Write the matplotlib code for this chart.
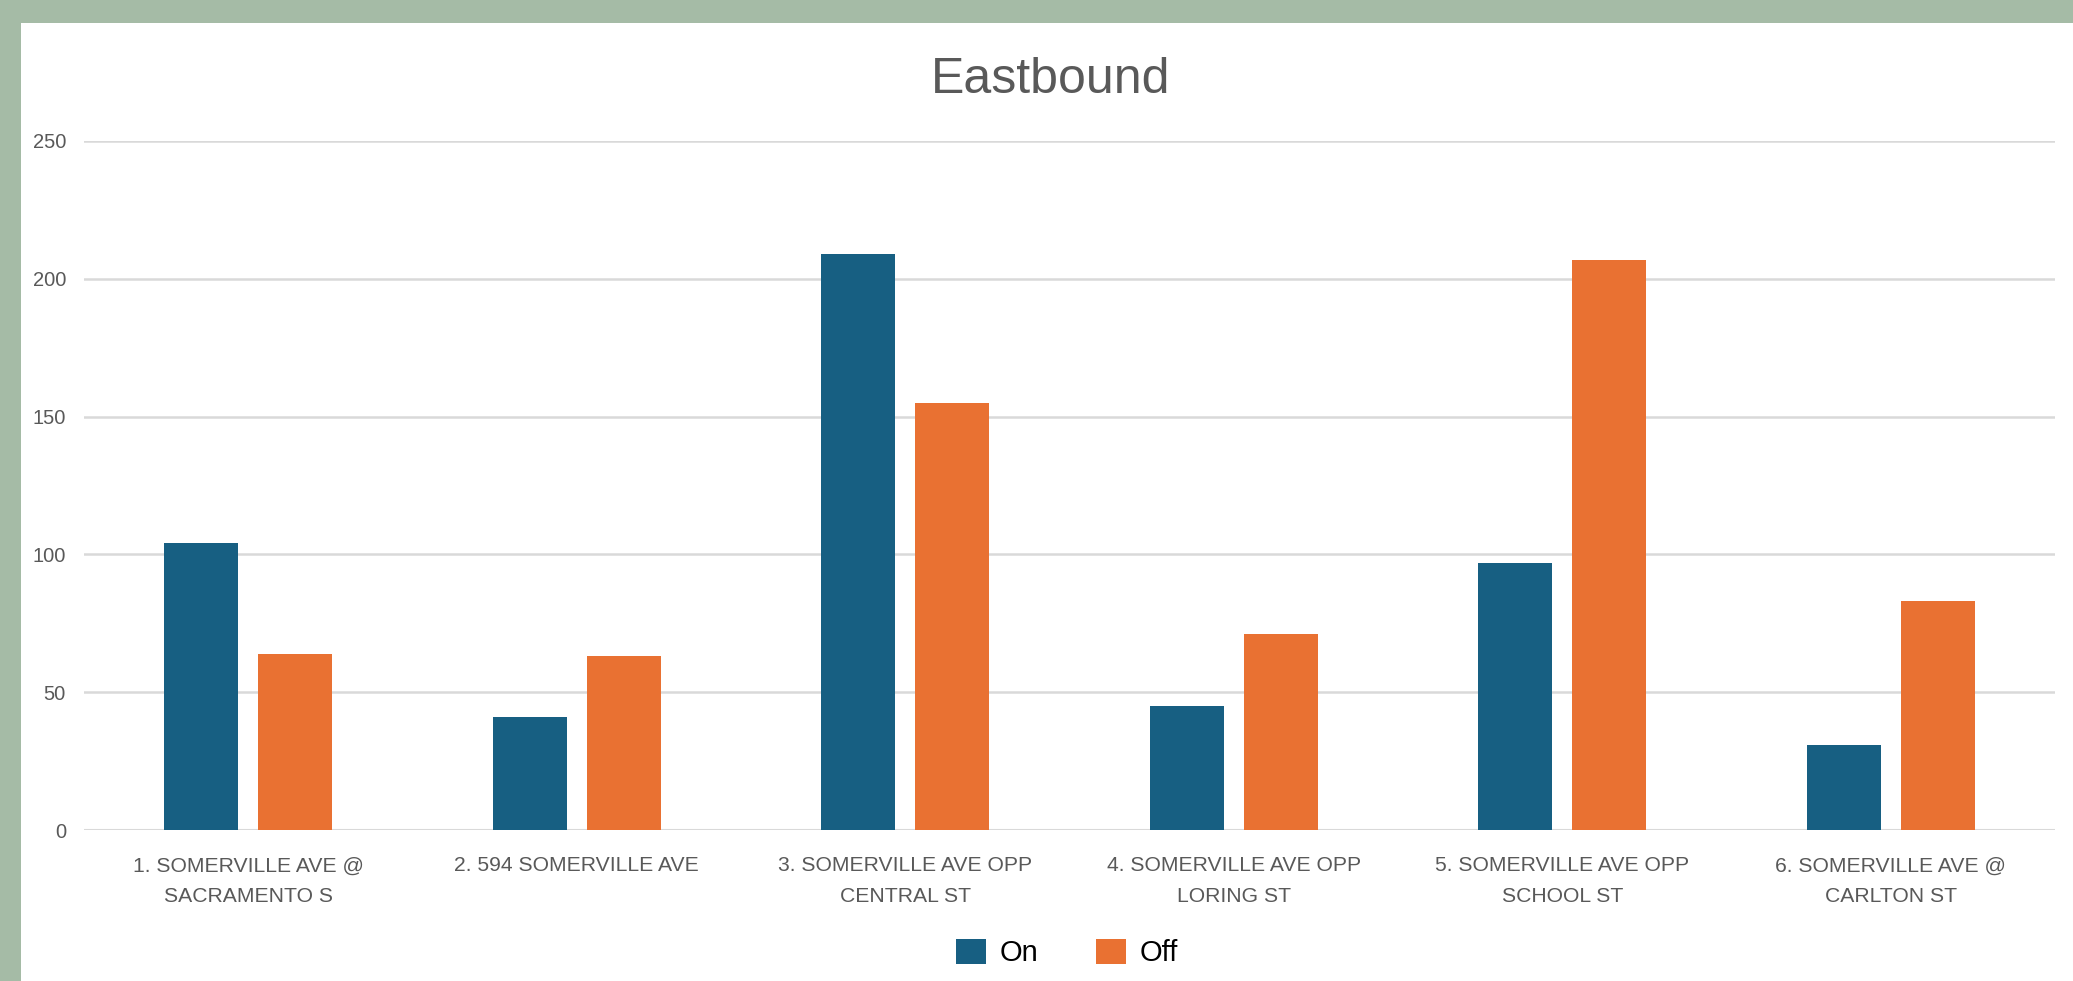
import matplotlib
matplotlib.use("Agg")
import matplotlib.pyplot as plt
from matplotlib.patches import Rectangle
import numpy as np

stops = ["1. SOMERVILLE AVE @\nSACRAMENTO S",
         "2. 594 SOMERVILLE AVE",
         "3. SOMERVILLE AVE OPP\nCENTRAL ST",
         "4. SOMERVILLE AVE OPP\nLORING ST",
         "5. SOMERVILLE AVE OPP\nSCHOOL ST",
         "6. SOMERVILLE AVE @\nCARLTON ST"]
on_counts = [104, 41, 209, 45, 97, 31]
off_counts = [64, 63, 155, 71, 207, 83]
yticks = [0, 50, 100, 150, 200, 250]

fam = ['Liberation Sans', 'DejaVu Sans']
grey = '#595959'

fig = plt.figure(figsize=(20.73, 9.81), dpi=100, facecolor='#A5BBA6')
# white chart area inside the green frame (frame only top and left)
fig.add_artist(Rectangle((21 / 2073, 0), 1, 1 - 23 / 981,
                         transform=fig.transFigure, facecolor='white',
                         edgecolor='none', zorder=-1))

ax = fig.add_axes([84 / 2073, 1 - 830 / 981, (2055 - 84) / 2073, (830 - 141) / 981])
ax.set_facecolor('white')

x = np.arange(len(stops))
w = 0.225
off = 0.143
ax.bar(x - off, on_counts, w, color='#175F82', label='On', zorder=3)
ax.bar(x + off, off_counts, w, color='#E97132', label='Off', zorder=3)

ax.set_xlim(-0.5, len(stops) - 0.5)
ax.set_ylim(0, 250)
ax.set_yticks(yticks)
ax.yaxis.grid(True, color='#D9D9D9', linewidth=1.8, zorder=0)
ax.axhline(0, color='#D9D9D9', linewidth=2.2, zorder=2)
for s in ax.spines.values():
    s.set_visible(False)

ax.set_xticks(x)
ax.set_xticklabels(stops, fontsize=15.2, color=grey, family=fam, linespacing=1.75)
ax.tick_params(axis='x', length=0, pad=19)
ax.tick_params(axis='y', length=0, pad=13, labelcolor=grey)
for t in ax.get_yticklabels():
    t.set_fontsize(14.5)
    t.set_family(fam)

fig.text(1051 / 2073, 1 - 80 / 981, "Eastbound", fontsize=36, color=grey,
         family=fam, ha='center', va='center')

fig.legend(loc='center', bbox_to_anchor=(1067 / 2073, 1 - 953 / 981), ncol=2,
           frameon=False, prop={'family': fam, 'size': 21},
           handlelength=1.03, handleheight=0.93, handletextpad=0.45, columnspacing=2.0)

fig.savefig("out.png", dpi=100, facecolor=fig.get_facecolor())
